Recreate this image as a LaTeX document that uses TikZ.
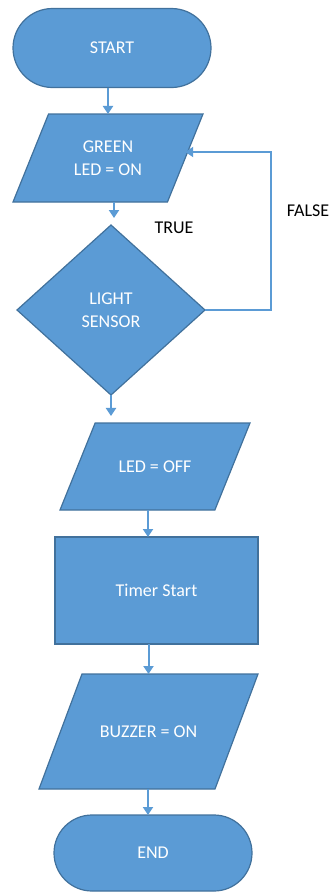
\documentclass[tikz,border=0pt]{standalone}
\usepackage{fontspec}
\setmainfont{Carlito}
\usetikzlibrary{shapes.geometric, shapes.misc, arrows.meta}
\definecolor{flowblue}{RGB}{91, 155, 213}
\definecolor{flowedge}{RGB}{65, 113, 156}

\begin{document}
\begin{tikzpicture}[
        x=1pt, y=-1pt,
        base/.style={draw=flowedge, line width=1.2pt, fill=flowblue, text=white, inner sep=0pt, outer sep=0pt, align=center, font=\fontsize{18}{23}\selectfont},
        terminal/.style={base, rounded rectangle, minimum width=198pt},
        io/.style={base, trapezium, trapezium left angle=68, trapezium right angle=112, trapezium stretches body},
        iotext/.style={text=white, align=center, inner sep=0pt, font=\fontsize{18}{23}\selectfont},
        process/.style={base, rectangle, minimum width=203pt, minimum height=107pt},
        decision/.style={base, diamond, minimum width=188pt, minimum height=170pt},
        arrow/.style={-{Triangle[width=10pt, length=8pt]}, draw=flowblue, line width=2pt},
        lbl/.style={font=\fontsize{18}{23}\selectfont, text=black},
    ]
        \useasboundingbox (0, 0) rectangle (332, 892);

        % Terminals
        \node[terminal, minimum height=79pt] (start) at (112, 48) {START};
        \node[terminal, minimum height=76pt] (finish) at (153, 853) {END};

        % Input / output steps (height from inner ysep so the slant keeps its angle)
        \node[io, inner ysep=44pt, minimum width=190pt,
              label={[iotext]center:{GREEN\\LED = ON}}] (green) at (108, 158) {};
        \node[io, inner ysep=43.5pt, minimum width=190pt,
              label={[iotext]center:LED = OFF}] (ledoff) at (155, 466.5) {};
        \node[io, inner ysep=57.5pt, minimum width=219pt, trapezium left angle=69.5, trapezium right angle=110.5,
              label={[iotext]center:BUZZER = ON}] (buzzer) at (148.5, 731.5) {};

        % Decision and process
        \node[decision] (sensor) at (111, 310) {LIGHT\\SENSOR};
        \node[process] (timer) at (156.5, 590.5) {Timer Start};

        % Main flow
        \draw[arrow] (green.north |- start.south) -- (green.north);
        \draw[arrow, shorten >=7pt] ([xshift=3pt]sensor.north |- green.south) -- ([xshift=3pt]sensor.north);
        \draw[arrow, shorten >=7pt] (sensor.south) -- (sensor.south |- ledoff.north);
        \draw[arrow] ([xshift=-7pt]ledoff.south) -- ([xshift=-7pt]ledoff.south |- timer.north);
        \draw[arrow] (buzzer.north |- timer.south) -- (buzzer.north);
        \draw[arrow] ([xshift=-5pt]finish.north |- buzzer.south) -- ([xshift=-5pt]finish.north);

        % Loop back when no light
        \coordinate (falsecorner) at (271, 152);
        \draw[arrow] (sensor.east) -| (falsecorner) -- (green.east |- falsecorner);

        % Labels
        \node[lbl] (truelbl) at (174, 228) {TRUE};
        \node[lbl] (falselbl) at (308, 211) {FALSE};
    \end{tikzpicture}
\end{document}
